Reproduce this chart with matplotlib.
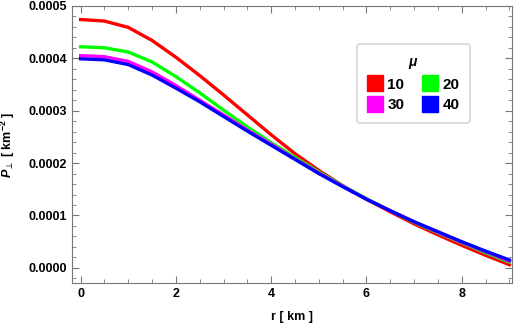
import matplotlib
matplotlib.use('Agg')
import matplotlib.pyplot as plt
from matplotlib.lines import Line2D
from matplotlib.ticker import MultipleLocator, FormatStrFormatter

plt.rcParams['font.family'] = ['Liberation Sans', 'DejaVu Sans']
plt.rcParams['mathtext.fontset'] = 'custom'
plt.rcParams['mathtext.it'] = 'Liberation Sans:italic:bold'
plt.rcParams['mathtext.rm'] = 'Liberation Sans:bold'
plt.rcParams['xtick.direction'] = 'in'
plt.rcParams['ytick.direction'] = 'in'

# data (values in units of 1e-4 km^-2)
r = [0, 0.5, 1.0, 1.5, 2.0, 2.5, 3.0, 3.5, 4.0, 4.5, 5.0, 5.5, 6.0, 6.5, 7.0, 7.5, 8.0, 8.5, 9.0]
p_mu10 = [4.74, 4.71, 4.59, 4.34, 4.02, 3.67, 3.30, 2.92, 2.54, 2.18, 1.86, 1.57, 1.31, 1.07, 0.84, 0.63, 0.43, 0.24, 0.06]
p_mu20 = [4.22, 4.20, 4.12, 3.93, 3.65, 3.34, 3.01, 2.69, 2.39, 2.11, 1.83, 1.57, 1.32, 1.09, 0.87, 0.67, 0.48, 0.29, 0.11]
p_mu30 = [4.05, 4.03, 3.94, 3.74, 3.48, 3.20, 2.92, 2.63, 2.36, 2.08, 1.81, 1.56, 1.31, 1.09, 0.88, 0.68, 0.49, 0.31, 0.13]
p_mu40 = [3.99, 3.97, 3.88, 3.68, 3.43, 3.17, 2.89, 2.61, 2.34, 2.07, 1.80, 1.55, 1.31, 1.09, 0.88, 0.69, 0.50, 0.32, 0.15]
mu_labels = ['10', '20', '30', '40']
colors = ['#ff0000', '#00ff00', '#ff00ff', '#0000ff']

fig = plt.figure(figsize=(5.18, 3.26), dpi=100)
ax = fig.add_axes([0.139, 0.132, 0.849, 0.85])

for ys, c in zip([p_mu10, p_mu20, p_mu30, p_mu40], colors):
    ax.plot(r, [v * 1e-4 for v in ys], color=c, lw=2.4, solid_joinstyle='round')

ax.set_xlim(-0.18, 9.05)
ax.set_ylim(-0.0000288, 0.0005)
ax.xaxis.set_major_locator(MultipleLocator(2))
ax.xaxis.set_minor_locator(MultipleLocator(0.5))
ax.yaxis.set_major_locator(MultipleLocator(0.0001))
ax.yaxis.set_minor_locator(MultipleLocator(0.00002))
ax.yaxis.set_major_formatter(FormatStrFormatter('%.4f'))
ax.tick_params(which='both', top=True, right=True, color='#777777', labelsize=9)
ax.tick_params(which='major', length=5)
ax.tick_params(which='minor', length=3)
for lab in ax.get_xticklabels() + ax.get_yticklabels():
    lab.set_fontweight('bold')
for s in ax.spines.values():
    s.set_color('#777777')

ax.set_xlabel('r [ km ]', fontsize=9, fontweight='bold', labelpad=8)
ax.set_ylabel(r'$P_{\perp}$ [ km$^{-2}$ ]', fontsize=9, fontweight='bold', labelpad=8)

handles = [Line2D([], [], ls='none', marker='s', markersize=11, color=c, markeredgecolor=c) for c in colors]
order = [0, 2, 1, 3]
leg = ax.legend([handles[i] for i in order], [mu_labels[i] for i in order], ncol=2,
                title=r'$\mu$', loc='upper left', bbox_to_anchor=(0.63, 0.89),
                prop={'weight': 'bold', 'size': 11}, frameon=True, fancybox=True,
                edgecolor='#cccccc', handletextpad=0.3, columnspacing=1.2,
                handlelength=1.0, borderpad=0.7, labelspacing=0.45)
leg.get_title().set_fontsize(10)
leg.get_frame().set_linewidth(1.2)

fig.savefig('out.png', dpi=100)
